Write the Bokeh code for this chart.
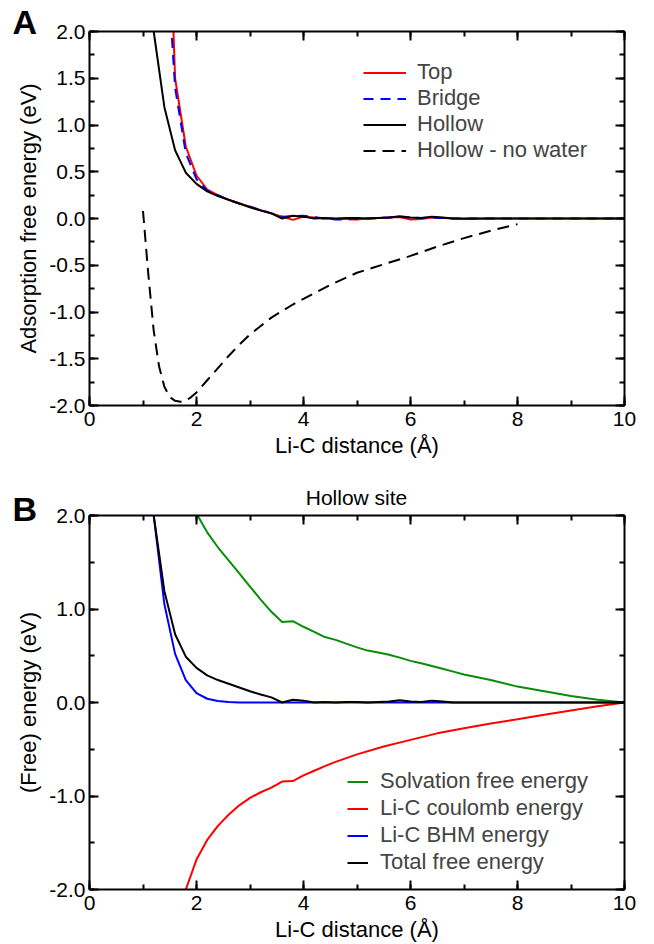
from bokeh.plotting import figure
from bokeh.layouts import column
from bokeh.models import (Range1d, LinearAxis, SingleIntervalTicker, PrintfTickFormatter,
                          Legend, LegendItem, GridBox)
from bokeh.core.properties import value
from bokeh.embed import file_html
from bokeh.resources import INLINE

FONT = "Liberation Sans"

# ---------------- Panel A data ----------------
x_hollow = [1.2, 1.4, 1.6, 1.8, 2.0, 2.2, 2.4, 2.6, 2.8, 3.0, 3.2, 3.4, 3.6, 3.8, 4.0, 4.2, 4.4,
            4.6, 4.8, 5.0, 5.2, 5.4, 5.6, 5.8, 6.0, 6.2, 6.4, 6.6, 6.8, 7.0, 7.5, 8.0, 8.5,
            9.0, 9.5, 10.0]
y_hollow = [2.0, 1.19, 0.73, 0.49, 0.37, 0.29, 0.24, 0.20, 0.16, 0.12, 0.085, 0.055, 0.0, 0.03,
            0.02, 0.0, 0.005, 0.0, 0.005, 0.005, 0.0, 0.005, 0.01, 0.025, 0.01, 0.005, 0.02,
            0.01, 0.0, 0.0, 0.0, 0.0, 0.0, 0.0, 0.0, 0.0]

x_top = [1.4, 1.6, 1.8, 2.0, 2.2, 2.4, 2.6, 2.8, 3.0, 3.2, 3.4, 3.6, 3.8, 4.0, 4.2, 4.4, 4.6,
         4.8, 5.0, 5.2, 5.4, 5.6, 5.8, 6.0, 6.2, 6.4, 6.6, 6.8, 7.0, 7.5, 8.0, 8.5, 9.0, 9.5, 10.0]
y_top = [4.8, 1.5, 0.77, 0.46, 0.31, 0.25, 0.20, 0.16, 0.125, 0.09, 0.055, 0.02, -0.015, 0.02,
         0.01, 0.0, -0.005, -0.005, -0.01, 0.0, 0.005, 0.01, 0.015, -0.01, -0.005, 0.01, 0.005,
         0.0, -0.005, 0.0, 0.0, 0.0, 0.0, 0.0, 0.0]

x_bridge = [1.4, 1.6, 1.8, 2.0, 2.2, 2.4, 2.6, 2.8, 3.0, 3.2, 3.4, 3.6, 3.8, 4.0, 4.2, 4.4, 4.6,
            4.8, 5.0, 5.2, 5.4, 5.6, 5.8, 6.0, 6.2, 6.4, 6.6, 6.8, 7.0, 7.5, 8.0, 8.5, 9.0, 9.5,
            10.0]
y_bridge = [3.2, 1.4, 0.70, 0.42, 0.30, 0.25, 0.20, 0.16, 0.125, 0.09, 0.055, 0.02, 0.025, 0.03,
            0.015, 0.0, -0.01, -0.01, -0.005, 0.0, 0.005, 0.01, 0.015, 0.01, 0.005, 0.01, 0.005,
            0.0, 0.0, 0.0, 0.0, 0.0, 0.0, 0.0, 0.0]

x_nowater = [1.0, 1.1, 1.2, 1.3, 1.4, 1.5, 1.6, 1.7, 1.8, 1.9, 2.0, 2.2, 2.4, 2.6, 2.8, 3.0, 3.2,
             3.4, 3.6, 3.8, 4.0, 4.5, 5.0, 5.5, 6.0, 6.5, 7.0, 7.5, 8.0]
y_nowater = [0.08, -0.60, -1.20, -1.58, -1.80, -1.91, -1.95, -1.96, -1.95, -1.91, -1.86, -1.73,
             -1.60, -1.47, -1.35, -1.24, -1.15, -1.06, -0.99, -0.92, -0.86, -0.71, -0.58, -0.49,
             -0.40, -0.30, -0.21, -0.13, -0.06]

# ---------------- Panel B data ----------------
x_bhm = [1.2, 1.4, 1.6, 1.8, 2.0, 2.2, 2.4, 2.6, 2.8, 3.0, 4.0, 5.0, 6.0, 7.0, 8.0, 9.0, 10.0]
y_bhm = [2.0, 1.05, 0.52, 0.24, 0.10, 0.04, 0.015, 0.005, 0.0, 0.0, 0.0, 0.0, 0.0, 0.0, 0.0,
         0.0, 0.0]

x_solv = [1.6, 1.8, 2.0, 2.2, 2.4, 2.6, 2.8, 3.0, 3.2, 3.4, 3.6, 3.8, 4.0, 4.2, 4.4, 4.6, 4.8,
          5.0, 5.2, 5.4, 5.6, 5.8, 6.0, 6.2, 6.4, 6.6, 6.8, 7.0, 7.5, 8.0, 8.5, 9.0, 9.5, 10.0]
y_solv = [2.6, 2.3, 2.02, 1.82, 1.66, 1.52, 1.38, 1.24, 1.10, 0.97, 0.86, 0.87, 0.81, 0.755,
          0.70, 0.67, 0.63, 0.59, 0.555, 0.535, 0.51, 0.48, 0.445, 0.42, 0.39, 0.36, 0.33, 0.30,
          0.24, 0.17, 0.12, 0.07, 0.03, 0.0]

x_coul = [1.6, 1.8, 2.0, 2.2, 2.4, 2.6, 2.8, 3.0, 3.2, 3.4, 3.6, 3.8, 4.0, 4.2, 4.4, 4.6, 4.8,
          5.0, 5.5, 6.0, 6.5, 7.0, 7.5, 8.0, 8.5, 9.0, 9.5, 10.0]
y_coul = [-2.45, -2.0, -1.68, -1.47, -1.32, -1.20, -1.10, -1.02, -0.96, -0.91, -0.845, -0.84,
          -0.78, -0.73, -0.68, -0.635, -0.595, -0.555, -0.47, -0.40, -0.33, -0.275, -0.225,
          -0.18, -0.13, -0.085, -0.04, 0.0]

x_total = x_hollow
y_total = y_hollow

panel_letters = ["A", "B"]
panel_b_title = "Hollow site"

TICK_FS = "21px"
LABEL_FS = "22px"
LEGEND_FS = "22px"


def make_fig(height, border_top, border_bottom, ymin, ymax, yint, ylabel):
    p = figure(width=654, height=height, output_backend="svg", toolbar_location=None,
               x_range=Range1d(0, 10), y_range=Range1d(ymin, ymax),
               min_border_left=89, min_border_right=30, min_border_top=border_top,
               min_border_bottom=border_bottom, x_axis_location=None, y_axis_location=None)
    p.grid.visible = False
    p.outline_line_color = None
    p.background_fill_color = "white"
    p.border_fill_color = "white"

    def mk_axis(kind, labels):
        if kind == "x":
            ax = LinearAxis(ticker=SingleIntervalTicker(interval=2, num_minor_ticks=2))
        else:
            ax = LinearAxis(ticker=SingleIntervalTicker(interval=yint, num_minor_ticks=2),
                            formatter=PrintfTickFormatter(format="%.1f"))
        ax.axis_line_width = 2
        ax.axis_line_color = "black"
        ax.major_tick_line_width = 2
        ax.minor_tick_line_width = 2
        ax.major_tick_in = 9
        ax.major_tick_out = 0
        ax.minor_tick_in = 5
        ax.minor_tick_out = 0
        ax.major_label_text_font = FONT
        ax.major_label_text_color = "black"
        ax.axis_label_text_font = FONT
        ax.axis_label_text_font_style = "normal"
        ax.axis_label_text_color = "black"
        ax.axis_label_text_font_size = LABEL_FS
        if labels:
            ax.major_label_text_font_size = TICK_FS
            ax.major_label_standoff = 4
            ax.axis_label_standoff = 5
        else:
            ax.major_label_text_font_size = "0px"
            ax.major_label_standoff = 0
        return ax

    xb = mk_axis("x", True)
    xb.axis_label = "Li-C distance (Å)"
    xb.major_label_standoff = 6
    xb.axis_label_standoff = 4
    p.add_layout(xb, "below")
    p.add_layout(mk_axis("x", False), "above")
    yl = mk_axis("y", True)
    yl.axis_label = ylabel
    p.add_layout(yl, "left")
    p.add_layout(mk_axis("y", False), "right")
    return p


# ---------------- Panel A ----------------
pa = make_fig(460, 31, 55, -2.0, 2.0, 0.5, "Adsorption free energy (eV)")
r_top = pa.line(x_top, y_top, line_color="#ff0000", line_width=2)
r_bridge = pa.line(x_bridge, y_bridge, line_color="#0000ff", line_width=2, line_dash="10 7")
r_hollow = pa.line(x_hollow, y_hollow, line_color="black", line_width=2)
r_nw = pa.line(x_nowater, y_nowater, line_color="black", line_width=2, line_dash="12 7")

leg_a = Legend(items=[LegendItem(label="Top", renderers=[r_top]),
                      LegendItem(label="Bridge", renderers=[r_bridge]),
                      LegendItem(label="Hollow", renderers=[r_hollow]),
                      LegendItem(label="Hollow - no water", renderers=[r_nw])],
               location=(274, 242), padding=0, margin=0, spacing=0,
               glyph_width=43, glyph_height=25, label_height=25, label_standoff=11,
               label_text_font=FONT, label_text_font_size=LEGEND_FS,
               border_line_color=None, background_fill_alpha=0)
pa.add_layout(leg_a, "center")

# ---------------- Panel B ----------------
pb = make_fig(484, 55, 54, -2.0, 2.0, 1.0, "(Free) energy (eV)")
r_solv = pb.line(x_solv, y_solv, line_color="#0a8c0a", line_width=2)
r_coul = pb.line(x_coul, y_coul, line_color="#ff0000", line_width=2)
r_bhm = pb.line(x_bhm, y_bhm, line_color="#0000ff", line_width=2)
r_tot = pb.line(x_total, y_total, line_color="black", line_width=2)

leg_b = Legend(items=[LegendItem(label="Solvation free energy", renderers=[r_solv]),
                      LegendItem(label="Li-C coulomb energy", renderers=[r_coul]),
                      LegendItem(label="Li-C BHM energy", renderers=[r_bhm]),
                      LegendItem(label="Total free energy", renderers=[r_tot])],
               location=(258, 14), padding=0, margin=0, spacing=1,
               glyph_width=21, glyph_height=25, label_height=25, label_standoff=12,
               label_text_font=FONT, label_text_font_size=LEGEND_FS,
               border_line_color=None, background_fill_alpha=0)
pb.add_layout(leg_b, "center")

# ---------------- transparent text layer (panel letters and panel-B title) ----------------
lf = figure(width=654, height=944, output_backend="svg", toolbar_location=None,
            x_range=Range1d(0, 654), y_range=Range1d(944, 0),
            min_border_left=0, min_border_right=0, min_border_top=0, min_border_bottom=0,
            x_axis_location=None, y_axis_location=None)
lf.grid.visible = False
lf.outline_line_color = None
lf.background_fill_alpha = 0
lf.border_fill_alpha = 0
lf.text(x=[12, 12], y=[21, 508], text=panel_letters, text_baseline="alphabetic",
        text_align="left", text_font=value(FONT), text_font_style="bold",
        text_font_size="34px", text_color="black")
lf.text(x=[356], y=[497], text=[panel_b_title], text_baseline="alphabetic",
        text_align="center", text_font=value(FONT), text_font_size="21px",
        text_color="black")

charts = column(pa, pb, spacing=0)
layout = GridBox(children=[(charts, 0, 0), (lf, 0, 0)])
open("out.html", "w").write(file_html(layout, INLINE))
